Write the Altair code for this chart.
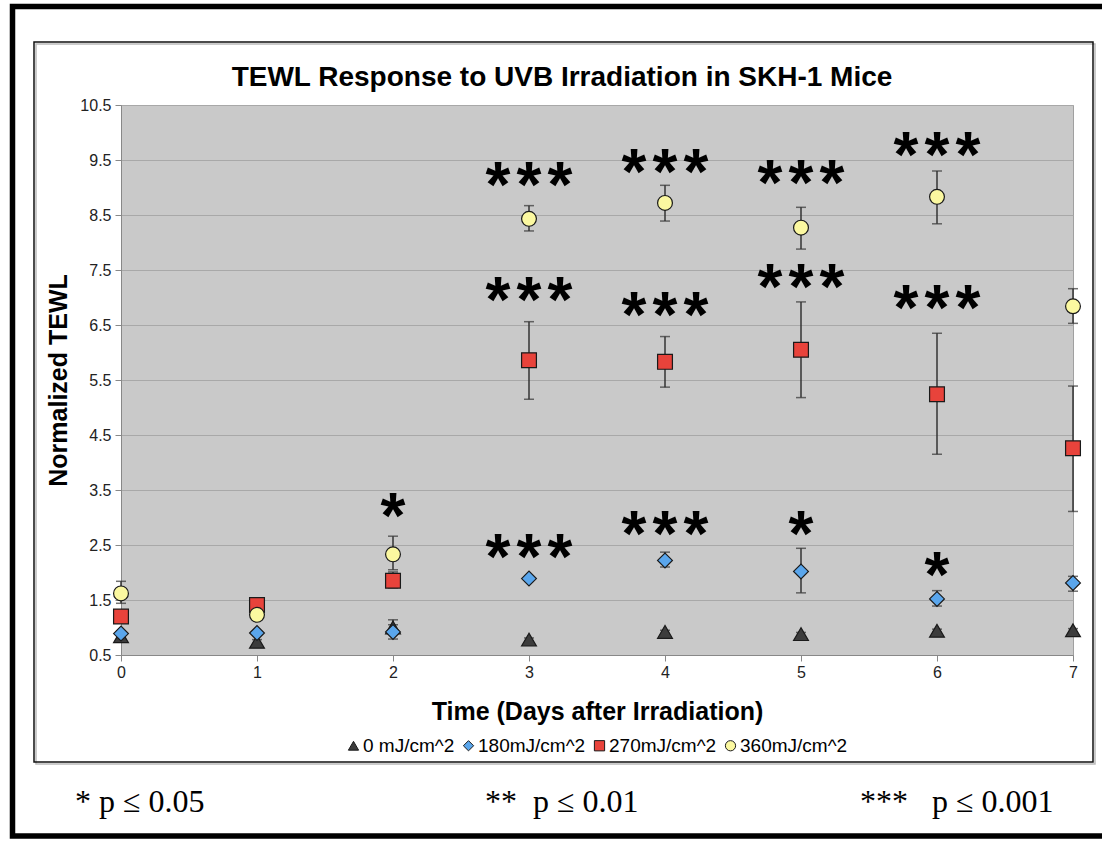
import altair as alt
import pandas as pd

# ---------------- data ----------------
days = [0, 1, 2, 3, 4, 5, 6, 7]
doses = ["0 mJ/cm^2", "180mJ/cm^2", "270mJ/cm^2", "360mJ/cm^2"]
y_ticks = [0.5, 1.5, 2.5, 3.5, 4.5, 5.5, 6.5, 7.5, 8.5, 9.5, 10.5]

mean_0 = [0.84, 0.74, 1.00, 0.78, 0.92, 0.88, 0.94, 0.95]
lo_0 = [0.80, 0.70, 0.95, 0.75, 0.89, 0.85, 0.91, 0.92]
hi_0 = [0.88, 0.78, 1.05, 0.81, 0.95, 0.91, 0.97, 0.98]

mean_180 = [0.89, 0.90, 0.92, 1.89, 2.22, 2.02, 1.52, 1.81]
lo_180 = [0.85, 0.86, 0.79, 1.84, 2.10, 1.63, 1.39, 1.66]
hi_180 = [0.93, 0.94, 1.14, 1.94, 2.37, 2.44, 1.67, 1.93]

mean_270 = [1.20, 1.41, 1.85, 5.86, 5.83, 6.05, 5.24, 4.26]
lo_270 = [1.12, 1.35, 1.72, 5.15, 5.37, 5.18, 4.15, 3.11]
hi_270 = [1.30, 1.47, 2.01, 6.56, 6.29, 6.92, 6.35, 5.39]

mean_360 = [1.62, 1.23, 2.33, 8.43, 8.72, 8.27, 8.83, 6.84]
lo_360 = [1.44, 1.15, 2.05, 8.21, 8.39, 7.88, 8.34, 6.53]
hi_360 = [1.84, 1.31, 2.66, 8.67, 9.04, 8.64, 9.30, 7.16]

# significance markers: day, vertical centre (in TEWL units), number of stars
sig_day = [2, 3, 3, 3, 4, 4, 4, 5, 5, 5, 6, 6, 6]
sig_y = [3.19, 9.21, 7.12, 2.44, 9.45, 6.85, 2.86, 9.24, 7.36, 2.86, 9.75, 6.97, 2.11]
sig_n = [1, 3, 3, 3, 3, 3, 3, 3, 3, 1, 3, 3, 1]

footnotes = ["*\u00a0p \u2264 0.05", "**\u00a0\u00a0p \u2264 0.01", "***\u00a0\u00a0\u00a0p \u2264 0.001"]

title_text = "TEWL Response to UVB Irradiation in SKH-1 Mice"

# ---------------- tables ----------------
rows = []
for dose, m, lo, hi in zip(doses,
                           [mean_0, mean_180, mean_270, mean_360],
                           [lo_0, lo_180, lo_270, lo_360],
                           [hi_0, hi_180, hi_270, hi_360]):
    for d, a, b, c in zip(days, m, lo, hi):
        rows.append({"day": d, "dose": dose, "mean": a, "lo": b, "hi": c})
df = pd.DataFrame(rows)
sig_df = pd.DataFrame({"day": sig_day, "y": sig_y, "n": sig_n})
one = pd.DataFrame({"a": [0]})

SANS = "Liberation Sans"
SERIF = "Liberation Serif"

x_scale = alt.Scale(domain=[0, 7], nice=False, zero=False)
y_scale = alt.Scale(domain=[0.5, 10.5], nice=False, zero=False)

x_axis = alt.Axis(values=days, format="d", grid=False, title="Time (Days after Irradiation)",
                  labelFont=SANS, labelFontSize=16, labelColor="#222", labelFlush=False,
                  titleFont=SANS, titleFontSize=25, titleFontWeight="bold", titleColor="black",
                  titlePadding=19, tickSize=6, tickColor="#888", domainColor="#888",
                  labelPadding=3)
y_axis = alt.Axis(values=y_ticks, format=".1f", grid=True, gridColor="#a8a8a8",
                  title="Normalized TEWL", labelFlush=False,
                  labelFont=SANS, labelFontSize=16, labelColor="#222",
                  titleFont=SANS, titleFontSize=25, titleFontWeight="bold", titleColor="black",
                  titlePadding=8, tickSize=6, tickColor="#888", domainColor="#888",
                  labelPadding=4)

X = alt.X("day:Q", scale=x_scale, axis=x_axis)

legend = alt.Legend(orient="none", legendX=223, legendY=631, direction="horizontal",
                    columns=4, title=None, labelFont=SANS, labelFontSize=19,
                    labelColor="black", symbolSize=105,
                    symbolStrokeColor="#1a1a1a", symbolStrokeWidth=1,
                    columnPadding=4, labelOffset=0, padding=0)

errbars = alt.Chart(df).mark_errorbar(ticks=True, size=10, thickness=1.5, color="#333").encode(
    x=X,
    y=alt.Y("lo:Q", scale=y_scale, axis=y_axis),
    y2="hi:Q",
)

points = alt.Chart(df).mark_point(filled=True, opacity=1, size=220,
                                  stroke="#1a1a1a", strokeWidth=1.2).encode(
    x=X,
    y=alt.Y("mean:Q", scale=y_scale, axis=y_axis),
    color=alt.Color("dose:N",
                    scale=alt.Scale(domain=doses, range=["#3c3c3c", "#5aa6ec", "#e8433b", "#fbf8a0"]),
                    legend=legend),
    shape=alt.Shape("dose:N",
                    scale=alt.Scale(domain=doses, range=["triangle-up", "diamond", "square", "circle"]),
                    legend=legend),
    order=alt.Order("dose:N"),
)


def stars(dx, only_triple):
    ch = alt.Chart(sig_df).mark_text(text="*", font=SANS, fontWeight="bold", fontSize=64,
                                     baseline="alphabetic", align="center", dx=dx, dy=31,
                                     color="black").encode(
        x=alt.X("day:Q", scale=x_scale),
        y=alt.Y("y:Q", scale=y_scale),
    )
    if only_triple:
        ch = ch.transform_filter("datum.n == 3")
    return ch


star_layers = [stars(off, off != 0) for off in [-31, 0, 31]]

title = alt.Chart(one).mark_text(text=title_text, font=SANS, fontWeight="bold", fontSize=28,
                                 align="center", baseline="alphabetic", color="black").encode(
    x=alt.value(441), y=alt.value(-19))

inner_box = alt.Chart(one).mark_rect(fillOpacity=0, stroke="#111", strokeWidth=1.5).encode(
    x=alt.value(-87), x2=alt.value(972), y=alt.value(-63), y2=alt.value(657))
inner_shadow = alt.Chart(one).mark_rect(fillOpacity=0, stroke="#bbb", strokeWidth=1.5).encode(
    x=alt.value(-85), x2=alt.value(974), y=alt.value(-61), y2=alt.value(659))
outer_box = alt.Chart(one).mark_rect(fillOpacity=0, stroke="black", strokeWidth=5.5).encode(
    x=alt.value(-108.5), x2=alt.value(995), y=alt.value(-98.5), y2=alt.value(731))

foot_x = [-46, 364, 739]
foot_layers = []
for txt, fx in zip(footnotes, foot_x):
    foot_layers.append(alt.Chart(one).mark_text(text=txt, font=SERIF, fontSize=32, align="left",
                                                baseline="alphabetic", color="black").encode(
        x=alt.value(fx), y=alt.value(707)))

chart = alt.layer(
    errbars, points, *star_layers, title, inner_shadow, inner_box, outer_box, *foot_layers
).resolve_scale(
    x="shared", y="shared"
).properties(
    width=952, height=550,
    autosize=alt.AutoSizeParams(type="none"),
    padding={"left": 121, "top": 105, "right": 29, "bottom": 187},
    background="white",
).configure_view(
    fill="#c9c9c9", stroke="#a0a0a0", strokeWidth=1
)

chart.save("out.html", embed_options={"renderer": "svg", "actions": False})
